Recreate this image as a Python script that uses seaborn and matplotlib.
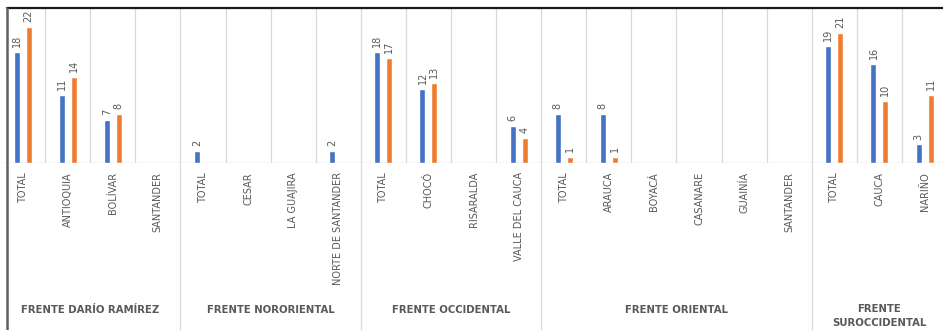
import matplotlib
matplotlib.use("Agg")
import matplotlib.pyplot as plt
from matplotlib.lines import Line2D
from matplotlib.transforms import blended_transform_factory
import numpy as np
import pandas as pd
import seaborn as sns

# ---------------- data ----------------
groups = ["FRENTE DARÍO RAMÍREZ", "FRENTE NORORIENTAL", "FRENTE OCCIDENTAL",
          "FRENTE ORIENTAL", "FRENTE\nSUROCCIDENTAL"]
group_sizes = [4, 4, 4, 6, 3]
categories = ["TOTAL", "ANTIOQUIA", "BOLÍVAR", "SANTANDER",
              "TOTAL", "CESAR", "LA GUAJIRA", "NORTE DE SANTANDER",
              "TOTAL", "CHOCÓ", "RISARALDA", "VALLE DEL CAUCA",
              "TOTAL", "ARAUCA", "BOYACÁ", "CASANARE", "GUAINÍA", "SANTANDER",
              "TOTAL", "CAUCA", "NARIÑO"]
serie_1 = [18, 11, 7, 0, 2, 0, 0, 2, 18, 12, 0, 6, 8, 8, 0, 0, 0, 0, 19, 16, 3]
serie_2 = [22, 14, 8, 0, 0, 0, 0, 0, 17, 13, 0, 4, 1, 1, 0, 0, 0, 0, 21, 10, 11]
series_names = ["Serie 1", "Serie 2"]

BLUE = "#4472C4"
ORANGE = "#ED7D31"
TEXT = "#595959"
GRID = "#D9D9D9"

sns.set_style("white")
plt.rcParams["font.family"] = ["DejaVu Sans"]

n = len(categories)
df = pd.DataFrame({
    "pos": list(range(n)) * 2,
    "value": serie_1 + serie_2,
    "serie": [series_names[0]] * n + [series_names[1]] * n,
})

W, H = 943, 330
fig = plt.figure(figsize=(W / 100, H / 100), dpi=100)
base_px = 163
top_px = 8
ax = fig.add_axes([0, (H - base_px) / H, 1, (base_px - top_px) / H])

sns.barplot(data=df, x="pos", y="value", hue="serie", order=list(range(n)),
            palette=[BLUE, ORANGE], width=0.53, gap=0.5, legend=False,
            saturation=1, ax=ax)

cat_px = 45.1
ax.set_xlim(-0.5, -0.5 + W / cat_px)
ax.set_ylim(0, 25.1)

for cont, vals in zip(ax.containers, [serie_1, serie_2]):
    labels = ["" if v == 0 else str(v) for v in vals]
    ax.bar_label(cont, labels=labels, padding=3.5, rotation=90,
                 color=TEXT, fontsize=7)

for s in ax.spines.values():
    s.set_visible(False)
ax.set_yticks([])
ax.set_ylabel("")
ax.set_xlabel("")
ax.set_xticks(range(n))
ax.set_xticklabels(categories, rotation=90, va="top", ha="center",
                   color=TEXT, fontsize=7)
ax.tick_params(axis="x", length=0, pad=6.5)

# category separators
for k in range(n - 1):
    ax.plot([k + 0.5, k + 0.5], [0, 25.1], color=GRID, lw=0.9, zorder=0)
ax.axhline(0, color=GRID, lw=1.0, zorder=0)

# group separators and labels
trans = blended_transform_factory(ax.transData, fig.transFigure)
start = 0
bounds = []
for g, size in zip(groups, group_sizes):
    end = start + size
    center = (start + end - 1) / 2
    if "\n" in g:
        ax.text(center, (H - 316) / H, g, transform=trans, ha="center",
                va="center", fontsize=7.3, fontweight="bold", color=TEXT,
                linespacing=1.45)
    else:
        ax.text(center, (H - 310) / H, g, transform=trans, ha="center",
                va="center", fontsize=7.3, fontweight="bold", color=TEXT)
    if end < n:
        bounds.append(end - 0.5)
    start = end
for b in bounds:
    ax.plot([b, b], [0, (H - base_px) / H], transform=trans, color=GRID,
            lw=0.9, clip_on=False)

# frame lines of the original screenshot
fig.add_artist(Line2D([7 / W, 1], [1 - 8 / H, 1 - 8 / H], color="#1a1a1a", lw=1.6))
fig.add_artist(Line2D([7.3 / W, 7.3 / W], [0, 1 - 8 / H], color="#606060", lw=1.8))

fig.savefig("out.png", dpi=100)
